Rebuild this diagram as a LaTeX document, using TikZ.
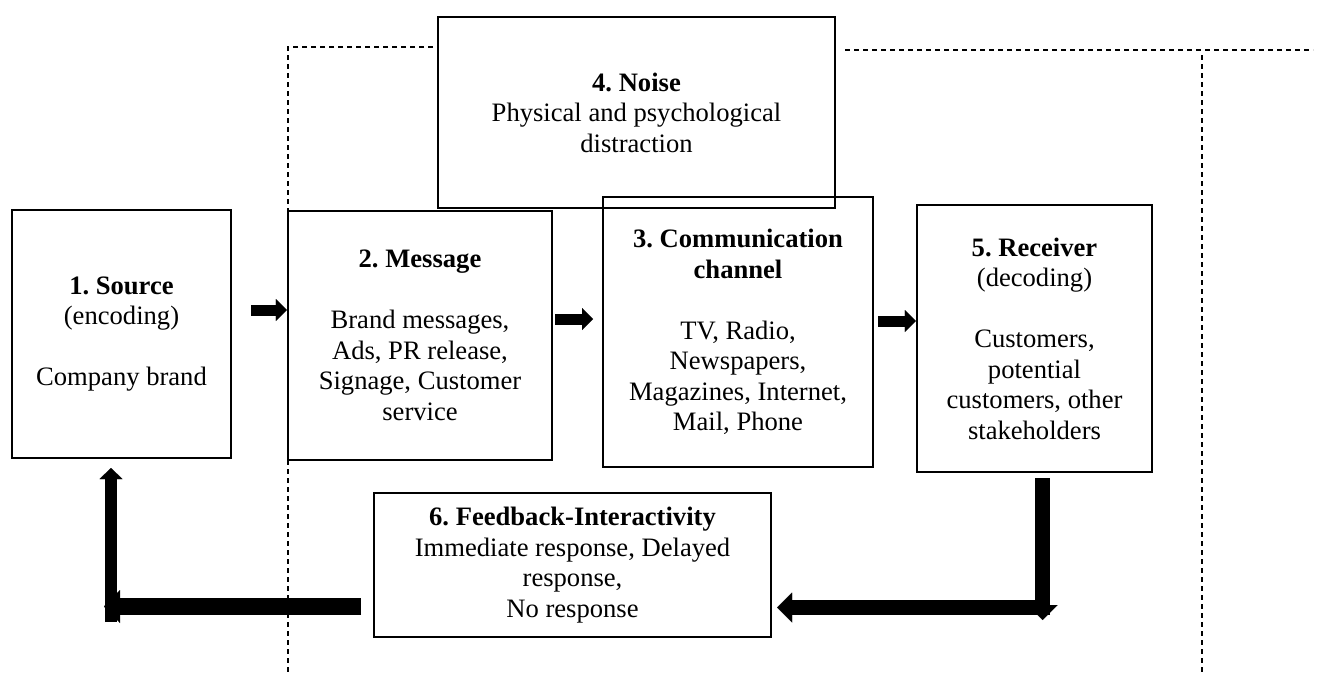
\documentclass[tikz,border=0pt]{standalone}
\usepackage{fontspec}
\setmainfont{Liberation Serif}
\usetikzlibrary{arrows.meta}
\frenchspacing
\newcommand{\diagfont}{\fontsize{26.6pt}{30.5pt}\selectfont}
\tikzset{
  box/.style={draw, line width=2.2pt, inner sep=0pt, align=center, font=\diagfont},
  dashline/.style={line width=1.4pt, dash pattern=on 5pt off 4pt},
  smallarr/.style={line width=11pt, -{Triangle[length=11pt,width=22pt,line width=0.01pt]}},
  bigarrA/.style={line width=15pt, -{Triangle[length=15pt,width=30pt,line width=0.01pt]}},
  bigarrB/.style={line width=17pt, -{Triangle[length=16pt,width=33pt,line width=0.01pt]}},
  bigarrC/.style={line width=12pt, -{Triangle[length=11pt,width=23pt,line width=0.01pt]}},
}
\begin{document}
\begin{tikzpicture}[x=1pt,y=-1pt]
\useasboundingbox (0,0) rectangle (1321,672);

% dashed frame lines
\coordinate (dl1) at (433,47);
\coordinate (dl2) at (288,47);
\coordinate (dl3) at (288,672);
\coordinate (dr1) at (845,50);
\coordinate (dr2) at (1313,50);
\coordinate (dv1) at (1202,55);
\coordinate (dv2) at (1202,672);
\draw[dashline] (dl1) -- (dl2) -- (dl3);
\draw[dashline] (dr1) -- (dr2);
\draw[dashline] (dv1) -- (dv2);

% boxes
\node[box, minimum width=219pt, minimum height=248pt] (src) at (121.5,334)
  {\textbf{1. Source}\\(encoding)\\~\\Company brand};
\node[box, minimum width=264pt, minimum height=249pt] (msg) at (420,335.5)
  {\textbf{2. Message}\\~\\Brand messages,\\Ads, PR release,\\Signage, Customer\\service};
\node[box, minimum width=270pt, minimum height=270pt] (chan) at (738,332)
  {\textbf{3. Communication}\\\textbf{channel}\\~\\TV, Radio,\\Newspapers,\\Magazines, Internet,\\Mail, Phone};
\node[box, minimum width=235pt, minimum height=267pt] (recv) at (1034.5,338.5)
  {\textbf{5. Receiver}\\(decoding)\\~\\Customers,\\potential\\customers, other\\stakeholders};
\node[box, minimum width=397pt, minimum height=191pt] (noise) at (636.5,112.5)
  {\textbf{4. Noise}\\Physical and psychological\\distraction};
\node[box, minimum width=397pt, minimum height=144pt] (fb) at (572.5,565)
  {\textbf{6. Feedback-Interactivity}\\Immediate response, Delayed\\response,\\No response};

% small forward arrows
\coordinate (a1) at (251,310);
\coordinate (a2) at (555,319);
\coordinate (a2e) at (593,319);
\coordinate (a3) at (878,321);
\draw[smallarr] (a1) -- (a1 -| msg.west);
\draw[smallarr] (a2) -- (a2e);
\draw[smallarr] (a3) -- (a3 -| recv.west);

% feedback from receiver
\coordinate (r1) at (1042.5,478);
\coordinate (r2) at (1042.5,620);
\coordinate (r3) at (1050,607.5);
\coordinate (r4) at (777,607.5);
\draw[bigarrA] (r1) -- (r2);
\draw[bigarrA] (r3) -- (r4);

% feedback to source
\coordinate (s1) at (361,606.5);
\coordinate (s2) at (104,606.5);
\coordinate (s3) at (111,622);
\coordinate (s4) at (111,468);
\draw[bigarrB] (s1) -- (s2);
\draw[bigarrC] (s3) -- (s4);
\end{tikzpicture}
\end{document}
